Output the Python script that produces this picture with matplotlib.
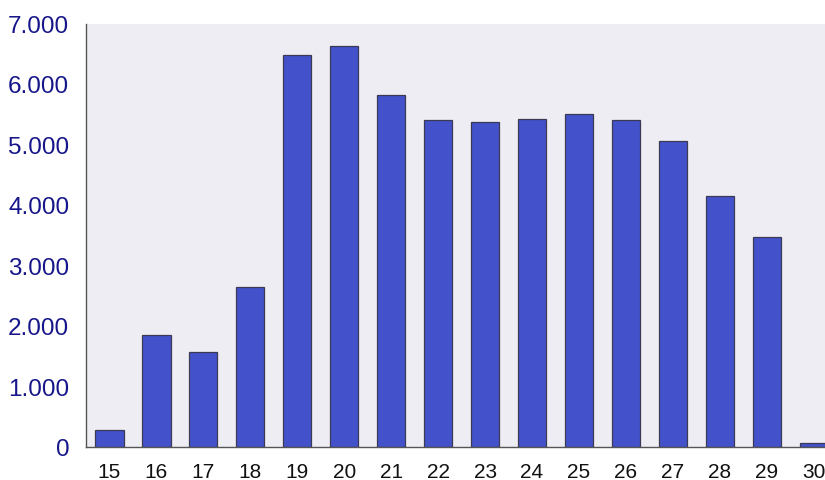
import matplotlib
matplotlib.use("Agg")
import matplotlib.pyplot as plt
from matplotlib.ticker import FuncFormatter

categories = [15, 16, 17, 18, 19, 20, 21, 22, 23, 24, 25, 26, 27, 28, 29, 30]
values = [280, 1850, 1570, 2645, 6475, 6625, 5823, 5405, 5372, 5421, 5504, 5405, 5058, 4149, 3471, 60]
yticks = [0, 1000, 2000, 3000, 4000, 5000, 6000, 7000]

plt.rcParams['font.family'] = ['Liberation Sans', 'DejaVu Sans']

fig = plt.figure(figsize=(8.25, 4.81), dpi=100)
ax = fig.add_axes([86/825, 33/481, 1 - 86/825, (448 - 24.5)/481])
ax.set_facecolor('#EEEDF3')
ax.bar(categories, values, width=0.6, color='#4352CB', edgecolor='#3A3A55', linewidth=0.9)
ax.set_xlim(14.5, 30.24)
ax.set_ylim(0, 7000)
ax.set_yticks(yticks)
ax.yaxis.set_major_formatter(FuncFormatter(lambda v, p: f"{int(v):,}".replace(",", ".")))
ax.set_xticks(categories)
ax.set_xticklabels([str(c) for c in categories])
ax.tick_params(axis='y', length=0, pad=12, labelsize=17.5, labelcolor='#16168A')
ax.tick_params(axis='x', length=0, pad=10.5, labelsize=15, labelcolor='#111111')
for s in ['top', 'right']:
    ax.spines[s].set_visible(False)
for s in ['left', 'bottom']:
    ax.spines[s].set_color('#555555')
    ax.spines[s].set_linewidth(1.0)
fig.savefig('out.png', dpi=100)
